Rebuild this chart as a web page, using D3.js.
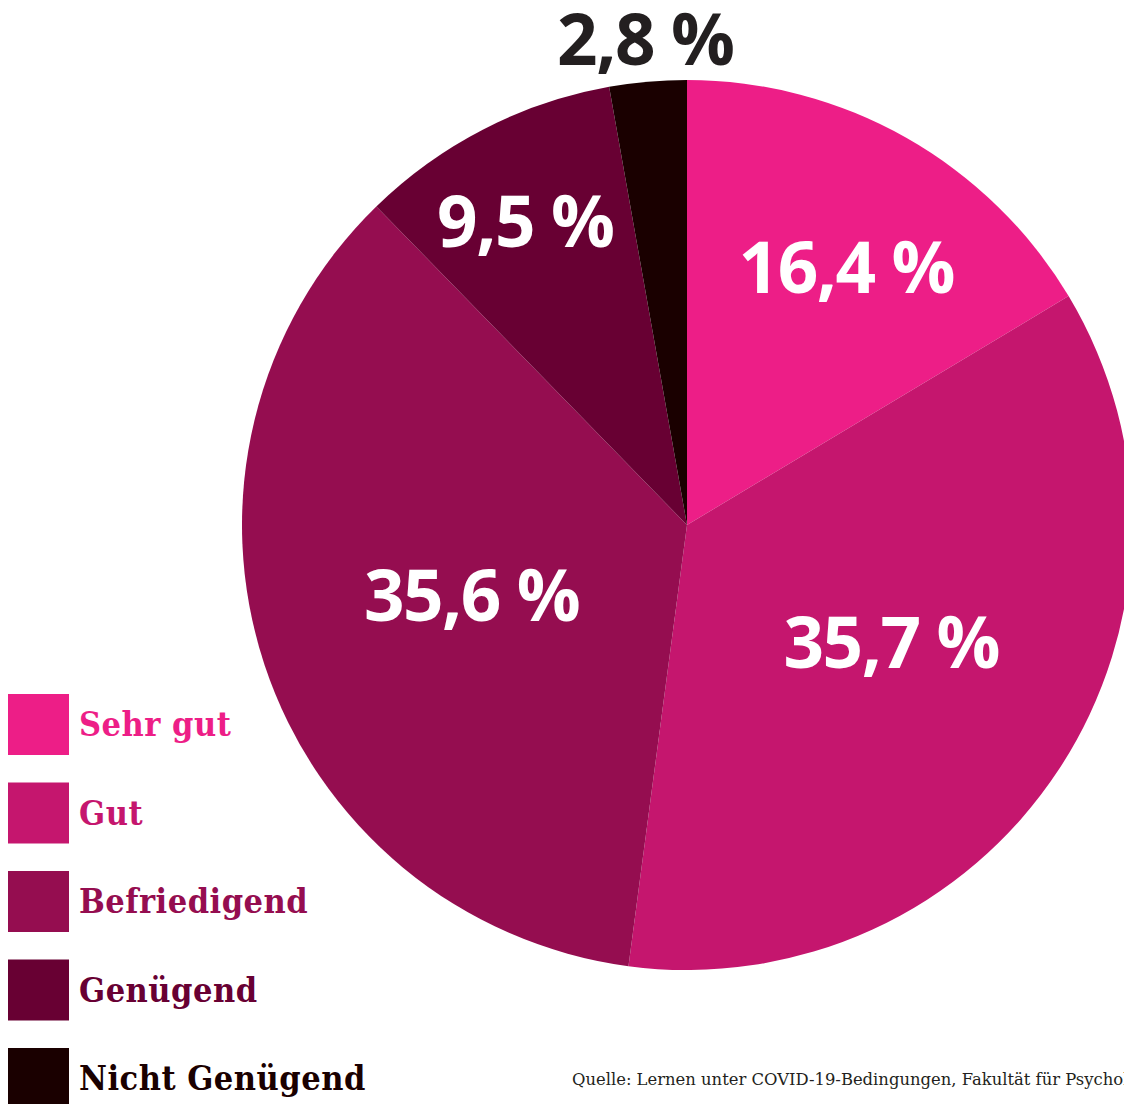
<!DOCTYPE html>
<html><head><meta charset="utf-8">
<script src="https://cdn.jsdelivr.net/npm/d3@7"></script>
<style>
html,body{margin:0;padding:0;background:#fff;overflow:hidden;}
svg{display:block;}
</style></head>
<body>
<svg id="chart" width="1124" height="1104"></svg>
<script>
const categories = ["Sehr gut", "Gut", "Befriedigend", "Genügend", "Nicht Genügend"];
const values = [16.4, 35.7, 35.6, 9.5, 2.8];
const valueLabels = ["16,4 %", "35,7 %", "35,6 %", "9,5 %", "2,8 %"];
const colors = ["#ED1E87", "#C5166E", "#950D50", "#680033", "#1A0000"];
const sourceText = "Quelle: Lernen unter COVID-19-Bedingungen, Fakultät für Psychologie, Universität Wien";

const svg = d3.select("#chart");
const cx = 687, cy = 525, R = 445;
const data = categories.map((c, i) => ({cat: c, value: values[i], label: valueLabels[i], color: colors[i]}));

const pie = d3.pie().value(d => d.value).sort(null);
const arcs = pie(data);
const arc = d3.arc().innerRadius(0).outerRadius(R);

const g = svg.append("g").attr("transform", `translate(${cx},${cy})`);
g.selectAll("path").data(arcs).join("path")
  .attr("d", arc).attr("fill", d => d.data.color);

// label layout (radius along mid-angle + small nudge)
const labelR = [303, 236, 228, 341, 487];
const nudge = [[10, 6], [7, -12], [1, -1], [-6, 0], [1, 0]];
g.selectAll("text.val").data(arcs).join("text")
  .attr("class", "val")
  .attr("x", (d, i) => { const a = (d.startAngle + d.endAngle) / 2; return Math.sin(a) * labelR[i] + nudge[i][0]; })
  .attr("y", (d, i) => { const a = (d.startAngle + d.endAngle) / 2; return -Math.cos(a) * labelR[i] + nudge[i][1]; })
  .attr("text-anchor", "middle")
  .attr("dy", "0.36em")
  .attr("font-family", "'Open Sans', sans-serif")
  .attr("font-weight", 700)
  .attr("font-size", 71)
  .attr("letter-spacing", -1.5)
  .attr("fill", (d, i) => i === 4 ? "#231F20" : "#ffffff")
  .text(d => d.data.label);

// legend
const lg = svg.append("g");
const ly = d3.scalePoint().domain(categories).range([694, 1048]);
lg.selectAll("rect").data(data).join("rect")
  .attr("x", 8).attr("y", d => ly(d.cat)).attr("width", 61).attr("height", 61)
  .attr("fill", d => d.color);
lg.selectAll("text").data(data).join("text")
  .attr("x", 79).attr("y", d => ly(d.cat) + 42)
  .attr("font-family", "'DejaVu Serif Condensed', 'DejaVu Serif', serif")
  .attr("font-weight", 700)
  .attr("font-size", 34)
  .attr("letter-spacing", 0.5)
  .attr("fill", d => d.color)
  .text(d => d.cat);

svg.append("text")
  .attr("x", 572).attr("y", 1085)
  .attr("font-family", "'DejaVu Serif', serif")
  .attr("font-size", 16.4)
  .attr("fill", "#231F20")
  .text(sourceText);
</script>
</body></html>
